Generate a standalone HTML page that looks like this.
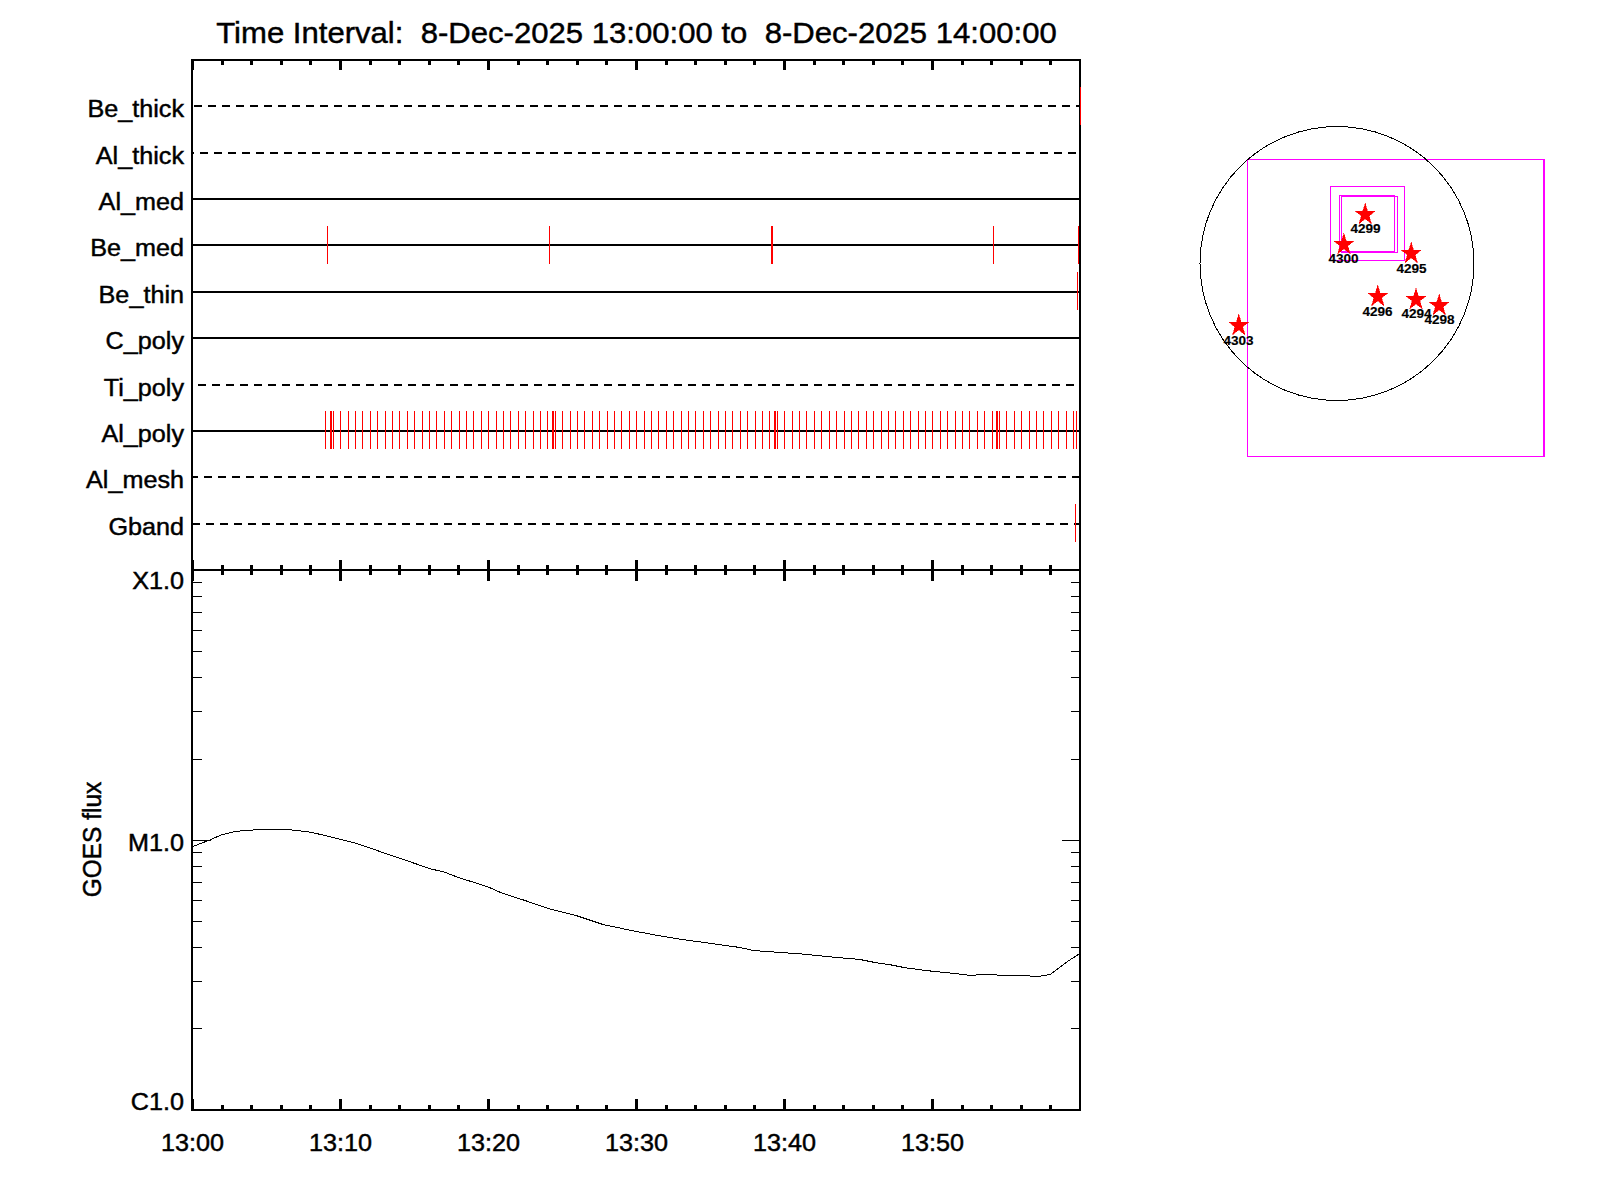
<!DOCTYPE html>
<html lang="en"><head><meta charset="utf-8"><title>XRT timeline 8-Dec-2025 13:00 - 14:00</title>
<style>html,body{margin:0;padding:0;background:#fff;}body{width:1600px;height:1200px;overflow:hidden;}svg{display:block;}text{font-family:"Liberation Sans",sans-serif;fill:#000;stroke:#000;stroke-width:0.45px;}.lab{font-size:24.0px;}.ttl{font-size:30.2px;}.ar{font-size:13.0px;font-weight:bold;stroke-width:0.15px;}</style>
</head><body>
<svg width="1600" height="1200" viewBox="0 0 1600 1200">
<rect x="0" y="0" width="1600" height="1200" fill="#ffffff"/>
<g shape-rendering="crispEdges">
<rect x="194" y="105" width="8" height="2" fill="#000"/>
<rect x="208" y="105" width="8" height="2" fill="#000"/>
<rect x="222" y="105" width="8" height="2" fill="#000"/>
<rect x="236" y="105" width="8" height="2" fill="#000"/>
<rect x="250" y="105" width="8" height="2" fill="#000"/>
<rect x="264" y="105" width="8" height="2" fill="#000"/>
<rect x="278" y="105" width="8" height="2" fill="#000"/>
<rect x="292" y="105" width="8" height="2" fill="#000"/>
<rect x="306" y="105" width="8" height="2" fill="#000"/>
<rect x="320" y="105" width="8" height="2" fill="#000"/>
<rect x="334" y="105" width="8" height="2" fill="#000"/>
<rect x="348" y="105" width="8" height="2" fill="#000"/>
<rect x="362" y="105" width="8" height="2" fill="#000"/>
<rect x="376" y="105" width="8" height="2" fill="#000"/>
<rect x="390" y="105" width="8" height="2" fill="#000"/>
<rect x="404" y="105" width="8" height="2" fill="#000"/>
<rect x="418" y="105" width="8" height="2" fill="#000"/>
<rect x="432" y="105" width="8" height="2" fill="#000"/>
<rect x="446" y="105" width="8" height="2" fill="#000"/>
<rect x="460" y="105" width="8" height="2" fill="#000"/>
<rect x="474" y="105" width="8" height="2" fill="#000"/>
<rect x="488" y="105" width="8" height="2" fill="#000"/>
<rect x="502" y="105" width="8" height="2" fill="#000"/>
<rect x="516" y="105" width="8" height="2" fill="#000"/>
<rect x="530" y="105" width="8" height="2" fill="#000"/>
<rect x="544" y="105" width="8" height="2" fill="#000"/>
<rect x="558" y="105" width="8" height="2" fill="#000"/>
<rect x="572" y="105" width="8" height="2" fill="#000"/>
<rect x="586" y="105" width="8" height="2" fill="#000"/>
<rect x="600" y="105" width="8" height="2" fill="#000"/>
<rect x="614" y="105" width="8" height="2" fill="#000"/>
<rect x="628" y="105" width="8" height="2" fill="#000"/>
<rect x="642" y="105" width="8" height="2" fill="#000"/>
<rect x="656" y="105" width="8" height="2" fill="#000"/>
<rect x="670" y="105" width="8" height="2" fill="#000"/>
<rect x="684" y="105" width="8" height="2" fill="#000"/>
<rect x="698" y="105" width="8" height="2" fill="#000"/>
<rect x="712" y="105" width="8" height="2" fill="#000"/>
<rect x="726" y="105" width="8" height="2" fill="#000"/>
<rect x="740" y="105" width="8" height="2" fill="#000"/>
<rect x="754" y="105" width="8" height="2" fill="#000"/>
<rect x="768" y="105" width="8" height="2" fill="#000"/>
<rect x="782" y="105" width="8" height="2" fill="#000"/>
<rect x="796" y="105" width="8" height="2" fill="#000"/>
<rect x="810" y="105" width="8" height="2" fill="#000"/>
<rect x="824" y="105" width="8" height="2" fill="#000"/>
<rect x="838" y="105" width="8" height="2" fill="#000"/>
<rect x="852" y="105" width="8" height="2" fill="#000"/>
<rect x="866" y="105" width="8" height="2" fill="#000"/>
<rect x="880" y="105" width="8" height="2" fill="#000"/>
<rect x="894" y="105" width="8" height="2" fill="#000"/>
<rect x="908" y="105" width="8" height="2" fill="#000"/>
<rect x="922" y="105" width="8" height="2" fill="#000"/>
<rect x="936" y="105" width="8" height="2" fill="#000"/>
<rect x="950" y="105" width="8" height="2" fill="#000"/>
<rect x="964" y="105" width="8" height="2" fill="#000"/>
<rect x="978" y="105" width="8" height="2" fill="#000"/>
<rect x="992" y="105" width="8" height="2" fill="#000"/>
<rect x="1006" y="105" width="8" height="2" fill="#000"/>
<rect x="1020" y="105" width="8" height="2" fill="#000"/>
<rect x="1034" y="105" width="8" height="2" fill="#000"/>
<rect x="1048" y="105" width="8" height="2" fill="#000"/>
<rect x="1062" y="105" width="8" height="2" fill="#000"/>
<rect x="1076" y="105" width="3" height="2" fill="#000"/>
<rect x="193" y="152" width="1" height="2" fill="#000"/>
<rect x="200" y="152" width="8" height="2" fill="#000"/>
<rect x="214" y="152" width="8" height="2" fill="#000"/>
<rect x="228" y="152" width="8" height="2" fill="#000"/>
<rect x="242" y="152" width="8" height="2" fill="#000"/>
<rect x="256" y="152" width="8" height="2" fill="#000"/>
<rect x="270" y="152" width="8" height="2" fill="#000"/>
<rect x="284" y="152" width="8" height="2" fill="#000"/>
<rect x="298" y="152" width="8" height="2" fill="#000"/>
<rect x="312" y="152" width="8" height="2" fill="#000"/>
<rect x="326" y="152" width="8" height="2" fill="#000"/>
<rect x="340" y="152" width="8" height="2" fill="#000"/>
<rect x="354" y="152" width="8" height="2" fill="#000"/>
<rect x="368" y="152" width="8" height="2" fill="#000"/>
<rect x="382" y="152" width="8" height="2" fill="#000"/>
<rect x="396" y="152" width="8" height="2" fill="#000"/>
<rect x="410" y="152" width="8" height="2" fill="#000"/>
<rect x="424" y="152" width="8" height="2" fill="#000"/>
<rect x="438" y="152" width="8" height="2" fill="#000"/>
<rect x="452" y="152" width="8" height="2" fill="#000"/>
<rect x="466" y="152" width="8" height="2" fill="#000"/>
<rect x="480" y="152" width="8" height="2" fill="#000"/>
<rect x="494" y="152" width="8" height="2" fill="#000"/>
<rect x="508" y="152" width="8" height="2" fill="#000"/>
<rect x="522" y="152" width="8" height="2" fill="#000"/>
<rect x="536" y="152" width="8" height="2" fill="#000"/>
<rect x="550" y="152" width="8" height="2" fill="#000"/>
<rect x="564" y="152" width="8" height="2" fill="#000"/>
<rect x="578" y="152" width="8" height="2" fill="#000"/>
<rect x="592" y="152" width="8" height="2" fill="#000"/>
<rect x="606" y="152" width="8" height="2" fill="#000"/>
<rect x="620" y="152" width="8" height="2" fill="#000"/>
<rect x="634" y="152" width="8" height="2" fill="#000"/>
<rect x="648" y="152" width="8" height="2" fill="#000"/>
<rect x="662" y="152" width="8" height="2" fill="#000"/>
<rect x="676" y="152" width="8" height="2" fill="#000"/>
<rect x="690" y="152" width="8" height="2" fill="#000"/>
<rect x="704" y="152" width="8" height="2" fill="#000"/>
<rect x="718" y="152" width="8" height="2" fill="#000"/>
<rect x="732" y="152" width="8" height="2" fill="#000"/>
<rect x="746" y="152" width="8" height="2" fill="#000"/>
<rect x="760" y="152" width="8" height="2" fill="#000"/>
<rect x="774" y="152" width="8" height="2" fill="#000"/>
<rect x="788" y="152" width="8" height="2" fill="#000"/>
<rect x="802" y="152" width="8" height="2" fill="#000"/>
<rect x="816" y="152" width="8" height="2" fill="#000"/>
<rect x="830" y="152" width="8" height="2" fill="#000"/>
<rect x="844" y="152" width="8" height="2" fill="#000"/>
<rect x="858" y="152" width="8" height="2" fill="#000"/>
<rect x="872" y="152" width="8" height="2" fill="#000"/>
<rect x="886" y="152" width="8" height="2" fill="#000"/>
<rect x="900" y="152" width="8" height="2" fill="#000"/>
<rect x="914" y="152" width="8" height="2" fill="#000"/>
<rect x="928" y="152" width="8" height="2" fill="#000"/>
<rect x="942" y="152" width="8" height="2" fill="#000"/>
<rect x="956" y="152" width="8" height="2" fill="#000"/>
<rect x="970" y="152" width="8" height="2" fill="#000"/>
<rect x="984" y="152" width="8" height="2" fill="#000"/>
<rect x="998" y="152" width="8" height="2" fill="#000"/>
<rect x="1012" y="152" width="8" height="2" fill="#000"/>
<rect x="1026" y="152" width="8" height="2" fill="#000"/>
<rect x="1040" y="152" width="8" height="2" fill="#000"/>
<rect x="1054" y="152" width="8" height="2" fill="#000"/>
<rect x="1068" y="152" width="8" height="2" fill="#000"/>
<rect x="193" y="198" width="886" height="2" fill="#000"/>
<rect x="193" y="244" width="886" height="2" fill="#000"/>
<rect x="193" y="291" width="886" height="2" fill="#000"/>
<rect x="193" y="337" width="886" height="2" fill="#000"/>
<rect x="198" y="384" width="8" height="2" fill="#000"/>
<rect x="212" y="384" width="8" height="2" fill="#000"/>
<rect x="226" y="384" width="8" height="2" fill="#000"/>
<rect x="240" y="384" width="8" height="2" fill="#000"/>
<rect x="254" y="384" width="8" height="2" fill="#000"/>
<rect x="268" y="384" width="8" height="2" fill="#000"/>
<rect x="282" y="384" width="8" height="2" fill="#000"/>
<rect x="296" y="384" width="8" height="2" fill="#000"/>
<rect x="310" y="384" width="8" height="2" fill="#000"/>
<rect x="324" y="384" width="8" height="2" fill="#000"/>
<rect x="338" y="384" width="8" height="2" fill="#000"/>
<rect x="352" y="384" width="8" height="2" fill="#000"/>
<rect x="366" y="384" width="8" height="2" fill="#000"/>
<rect x="380" y="384" width="8" height="2" fill="#000"/>
<rect x="394" y="384" width="8" height="2" fill="#000"/>
<rect x="408" y="384" width="8" height="2" fill="#000"/>
<rect x="422" y="384" width="8" height="2" fill="#000"/>
<rect x="436" y="384" width="8" height="2" fill="#000"/>
<rect x="450" y="384" width="8" height="2" fill="#000"/>
<rect x="464" y="384" width="8" height="2" fill="#000"/>
<rect x="478" y="384" width="8" height="2" fill="#000"/>
<rect x="492" y="384" width="8" height="2" fill="#000"/>
<rect x="506" y="384" width="8" height="2" fill="#000"/>
<rect x="520" y="384" width="8" height="2" fill="#000"/>
<rect x="534" y="384" width="8" height="2" fill="#000"/>
<rect x="548" y="384" width="8" height="2" fill="#000"/>
<rect x="562" y="384" width="8" height="2" fill="#000"/>
<rect x="576" y="384" width="8" height="2" fill="#000"/>
<rect x="590" y="384" width="8" height="2" fill="#000"/>
<rect x="604" y="384" width="8" height="2" fill="#000"/>
<rect x="618" y="384" width="8" height="2" fill="#000"/>
<rect x="632" y="384" width="8" height="2" fill="#000"/>
<rect x="646" y="384" width="8" height="2" fill="#000"/>
<rect x="660" y="384" width="8" height="2" fill="#000"/>
<rect x="674" y="384" width="8" height="2" fill="#000"/>
<rect x="688" y="384" width="8" height="2" fill="#000"/>
<rect x="702" y="384" width="8" height="2" fill="#000"/>
<rect x="716" y="384" width="8" height="2" fill="#000"/>
<rect x="730" y="384" width="8" height="2" fill="#000"/>
<rect x="744" y="384" width="8" height="2" fill="#000"/>
<rect x="758" y="384" width="8" height="2" fill="#000"/>
<rect x="772" y="384" width="8" height="2" fill="#000"/>
<rect x="786" y="384" width="8" height="2" fill="#000"/>
<rect x="800" y="384" width="8" height="2" fill="#000"/>
<rect x="814" y="384" width="8" height="2" fill="#000"/>
<rect x="828" y="384" width="8" height="2" fill="#000"/>
<rect x="842" y="384" width="8" height="2" fill="#000"/>
<rect x="856" y="384" width="8" height="2" fill="#000"/>
<rect x="870" y="384" width="8" height="2" fill="#000"/>
<rect x="884" y="384" width="8" height="2" fill="#000"/>
<rect x="898" y="384" width="8" height="2" fill="#000"/>
<rect x="912" y="384" width="8" height="2" fill="#000"/>
<rect x="926" y="384" width="8" height="2" fill="#000"/>
<rect x="940" y="384" width="8" height="2" fill="#000"/>
<rect x="954" y="384" width="8" height="2" fill="#000"/>
<rect x="968" y="384" width="8" height="2" fill="#000"/>
<rect x="982" y="384" width="8" height="2" fill="#000"/>
<rect x="996" y="384" width="8" height="2" fill="#000"/>
<rect x="1010" y="384" width="8" height="2" fill="#000"/>
<rect x="1024" y="384" width="8" height="2" fill="#000"/>
<rect x="1038" y="384" width="8" height="2" fill="#000"/>
<rect x="1052" y="384" width="8" height="2" fill="#000"/>
<rect x="1066" y="384" width="8" height="2" fill="#000"/>
<rect x="193" y="430" width="886" height="2" fill="#000"/>
<rect x="193" y="476" width="5" height="2" fill="#000"/>
<rect x="204" y="476" width="8" height="2" fill="#000"/>
<rect x="218" y="476" width="8" height="2" fill="#000"/>
<rect x="232" y="476" width="8" height="2" fill="#000"/>
<rect x="246" y="476" width="8" height="2" fill="#000"/>
<rect x="260" y="476" width="8" height="2" fill="#000"/>
<rect x="274" y="476" width="8" height="2" fill="#000"/>
<rect x="288" y="476" width="8" height="2" fill="#000"/>
<rect x="302" y="476" width="8" height="2" fill="#000"/>
<rect x="316" y="476" width="8" height="2" fill="#000"/>
<rect x="330" y="476" width="8" height="2" fill="#000"/>
<rect x="344" y="476" width="8" height="2" fill="#000"/>
<rect x="358" y="476" width="8" height="2" fill="#000"/>
<rect x="372" y="476" width="8" height="2" fill="#000"/>
<rect x="386" y="476" width="8" height="2" fill="#000"/>
<rect x="400" y="476" width="8" height="2" fill="#000"/>
<rect x="414" y="476" width="8" height="2" fill="#000"/>
<rect x="428" y="476" width="8" height="2" fill="#000"/>
<rect x="442" y="476" width="8" height="2" fill="#000"/>
<rect x="456" y="476" width="8" height="2" fill="#000"/>
<rect x="470" y="476" width="8" height="2" fill="#000"/>
<rect x="484" y="476" width="8" height="2" fill="#000"/>
<rect x="498" y="476" width="8" height="2" fill="#000"/>
<rect x="512" y="476" width="8" height="2" fill="#000"/>
<rect x="526" y="476" width="8" height="2" fill="#000"/>
<rect x="540" y="476" width="8" height="2" fill="#000"/>
<rect x="554" y="476" width="8" height="2" fill="#000"/>
<rect x="568" y="476" width="8" height="2" fill="#000"/>
<rect x="582" y="476" width="8" height="2" fill="#000"/>
<rect x="596" y="476" width="8" height="2" fill="#000"/>
<rect x="610" y="476" width="8" height="2" fill="#000"/>
<rect x="624" y="476" width="8" height="2" fill="#000"/>
<rect x="638" y="476" width="8" height="2" fill="#000"/>
<rect x="652" y="476" width="8" height="2" fill="#000"/>
<rect x="666" y="476" width="8" height="2" fill="#000"/>
<rect x="680" y="476" width="8" height="2" fill="#000"/>
<rect x="694" y="476" width="8" height="2" fill="#000"/>
<rect x="708" y="476" width="8" height="2" fill="#000"/>
<rect x="722" y="476" width="8" height="2" fill="#000"/>
<rect x="736" y="476" width="8" height="2" fill="#000"/>
<rect x="750" y="476" width="8" height="2" fill="#000"/>
<rect x="764" y="476" width="8" height="2" fill="#000"/>
<rect x="778" y="476" width="8" height="2" fill="#000"/>
<rect x="792" y="476" width="8" height="2" fill="#000"/>
<rect x="806" y="476" width="8" height="2" fill="#000"/>
<rect x="820" y="476" width="8" height="2" fill="#000"/>
<rect x="834" y="476" width="8" height="2" fill="#000"/>
<rect x="848" y="476" width="8" height="2" fill="#000"/>
<rect x="862" y="476" width="8" height="2" fill="#000"/>
<rect x="876" y="476" width="8" height="2" fill="#000"/>
<rect x="890" y="476" width="8" height="2" fill="#000"/>
<rect x="904" y="476" width="8" height="2" fill="#000"/>
<rect x="918" y="476" width="8" height="2" fill="#000"/>
<rect x="932" y="476" width="8" height="2" fill="#000"/>
<rect x="946" y="476" width="8" height="2" fill="#000"/>
<rect x="960" y="476" width="8" height="2" fill="#000"/>
<rect x="974" y="476" width="8" height="2" fill="#000"/>
<rect x="988" y="476" width="8" height="2" fill="#000"/>
<rect x="1002" y="476" width="8" height="2" fill="#000"/>
<rect x="1016" y="476" width="8" height="2" fill="#000"/>
<rect x="1030" y="476" width="8" height="2" fill="#000"/>
<rect x="1044" y="476" width="8" height="2" fill="#000"/>
<rect x="1058" y="476" width="8" height="2" fill="#000"/>
<rect x="1072" y="476" width="7" height="2" fill="#000"/>
<rect x="193" y="523" width="7" height="2" fill="#000"/>
<rect x="206" y="523" width="8" height="2" fill="#000"/>
<rect x="220" y="523" width="8" height="2" fill="#000"/>
<rect x="234" y="523" width="8" height="2" fill="#000"/>
<rect x="248" y="523" width="8" height="2" fill="#000"/>
<rect x="262" y="523" width="8" height="2" fill="#000"/>
<rect x="276" y="523" width="8" height="2" fill="#000"/>
<rect x="290" y="523" width="8" height="2" fill="#000"/>
<rect x="304" y="523" width="8" height="2" fill="#000"/>
<rect x="318" y="523" width="8" height="2" fill="#000"/>
<rect x="332" y="523" width="8" height="2" fill="#000"/>
<rect x="346" y="523" width="8" height="2" fill="#000"/>
<rect x="360" y="523" width="8" height="2" fill="#000"/>
<rect x="374" y="523" width="8" height="2" fill="#000"/>
<rect x="388" y="523" width="8" height="2" fill="#000"/>
<rect x="402" y="523" width="8" height="2" fill="#000"/>
<rect x="416" y="523" width="8" height="2" fill="#000"/>
<rect x="430" y="523" width="8" height="2" fill="#000"/>
<rect x="444" y="523" width="8" height="2" fill="#000"/>
<rect x="458" y="523" width="8" height="2" fill="#000"/>
<rect x="472" y="523" width="8" height="2" fill="#000"/>
<rect x="486" y="523" width="8" height="2" fill="#000"/>
<rect x="500" y="523" width="8" height="2" fill="#000"/>
<rect x="514" y="523" width="8" height="2" fill="#000"/>
<rect x="528" y="523" width="8" height="2" fill="#000"/>
<rect x="542" y="523" width="8" height="2" fill="#000"/>
<rect x="556" y="523" width="8" height="2" fill="#000"/>
<rect x="570" y="523" width="8" height="2" fill="#000"/>
<rect x="584" y="523" width="8" height="2" fill="#000"/>
<rect x="598" y="523" width="8" height="2" fill="#000"/>
<rect x="612" y="523" width="8" height="2" fill="#000"/>
<rect x="626" y="523" width="8" height="2" fill="#000"/>
<rect x="640" y="523" width="8" height="2" fill="#000"/>
<rect x="654" y="523" width="8" height="2" fill="#000"/>
<rect x="668" y="523" width="8" height="2" fill="#000"/>
<rect x="682" y="523" width="8" height="2" fill="#000"/>
<rect x="696" y="523" width="8" height="2" fill="#000"/>
<rect x="710" y="523" width="8" height="2" fill="#000"/>
<rect x="724" y="523" width="8" height="2" fill="#000"/>
<rect x="738" y="523" width="8" height="2" fill="#000"/>
<rect x="752" y="523" width="8" height="2" fill="#000"/>
<rect x="766" y="523" width="8" height="2" fill="#000"/>
<rect x="780" y="523" width="8" height="2" fill="#000"/>
<rect x="794" y="523" width="8" height="2" fill="#000"/>
<rect x="808" y="523" width="8" height="2" fill="#000"/>
<rect x="822" y="523" width="8" height="2" fill="#000"/>
<rect x="836" y="523" width="8" height="2" fill="#000"/>
<rect x="850" y="523" width="8" height="2" fill="#000"/>
<rect x="864" y="523" width="8" height="2" fill="#000"/>
<rect x="878" y="523" width="8" height="2" fill="#000"/>
<rect x="892" y="523" width="8" height="2" fill="#000"/>
<rect x="906" y="523" width="8" height="2" fill="#000"/>
<rect x="920" y="523" width="8" height="2" fill="#000"/>
<rect x="934" y="523" width="8" height="2" fill="#000"/>
<rect x="948" y="523" width="8" height="2" fill="#000"/>
<rect x="962" y="523" width="8" height="2" fill="#000"/>
<rect x="976" y="523" width="8" height="2" fill="#000"/>
<rect x="990" y="523" width="8" height="2" fill="#000"/>
<rect x="1004" y="523" width="8" height="2" fill="#000"/>
<rect x="1018" y="523" width="8" height="2" fill="#000"/>
<rect x="1032" y="523" width="8" height="2" fill="#000"/>
<rect x="1046" y="523" width="8" height="2" fill="#000"/>
<rect x="1060" y="523" width="8" height="2" fill="#000"/>
<rect x="1074" y="523" width="5" height="2" fill="#000"/>
<rect x="191" y="59" width="2" height="1052" fill="#000"/>
<rect x="1079" y="59" width="2" height="1052" fill="#000"/>
<rect x="191" y="59" width="890" height="2" fill="#000"/>
<rect x="191" y="569" width="890" height="2" fill="#000"/>
<rect x="191" y="1109" width="890" height="2" fill="#000"/>
<rect x="192" y="61" width="2" height="9" fill="#000"/>
<rect x="192" y="560" width="2" height="21" fill="#000"/>
<rect x="192" y="1099" width="2" height="10" fill="#000"/>
<rect x="221" y="61" width="3" height="4" fill="#000"/>
<rect x="221" y="565" width="3" height="10" fill="#000"/>
<rect x="221" y="1105" width="3" height="4" fill="#000"/>
<rect x="250" y="61" width="3" height="4" fill="#000"/>
<rect x="250" y="565" width="3" height="10" fill="#000"/>
<rect x="250" y="1105" width="3" height="4" fill="#000"/>
<rect x="280" y="61" width="3" height="4" fill="#000"/>
<rect x="280" y="565" width="3" height="10" fill="#000"/>
<rect x="280" y="1105" width="3" height="4" fill="#000"/>
<rect x="309" y="61" width="3" height="4" fill="#000"/>
<rect x="309" y="565" width="3" height="10" fill="#000"/>
<rect x="309" y="1105" width="3" height="4" fill="#000"/>
<rect x="339" y="61" width="3" height="9" fill="#000"/>
<rect x="339" y="560" width="3" height="21" fill="#000"/>
<rect x="339" y="1099" width="3" height="10" fill="#000"/>
<rect x="369" y="61" width="3" height="4" fill="#000"/>
<rect x="369" y="565" width="3" height="10" fill="#000"/>
<rect x="369" y="1105" width="3" height="4" fill="#000"/>
<rect x="398" y="61" width="3" height="4" fill="#000"/>
<rect x="398" y="565" width="3" height="10" fill="#000"/>
<rect x="398" y="1105" width="3" height="4" fill="#000"/>
<rect x="428" y="61" width="3" height="4" fill="#000"/>
<rect x="428" y="565" width="3" height="10" fill="#000"/>
<rect x="428" y="1105" width="3" height="4" fill="#000"/>
<rect x="457" y="61" width="3" height="4" fill="#000"/>
<rect x="457" y="565" width="3" height="10" fill="#000"/>
<rect x="457" y="1105" width="3" height="4" fill="#000"/>
<rect x="487" y="61" width="3" height="9" fill="#000"/>
<rect x="487" y="560" width="3" height="21" fill="#000"/>
<rect x="487" y="1099" width="3" height="10" fill="#000"/>
<rect x="517" y="61" width="3" height="4" fill="#000"/>
<rect x="517" y="565" width="3" height="10" fill="#000"/>
<rect x="517" y="1105" width="3" height="4" fill="#000"/>
<rect x="546" y="61" width="3" height="4" fill="#000"/>
<rect x="546" y="565" width="3" height="10" fill="#000"/>
<rect x="546" y="1105" width="3" height="4" fill="#000"/>
<rect x="576" y="61" width="3" height="4" fill="#000"/>
<rect x="576" y="565" width="3" height="10" fill="#000"/>
<rect x="576" y="1105" width="3" height="4" fill="#000"/>
<rect x="605" y="61" width="3" height="4" fill="#000"/>
<rect x="605" y="565" width="3" height="10" fill="#000"/>
<rect x="605" y="1105" width="3" height="4" fill="#000"/>
<rect x="635" y="61" width="3" height="9" fill="#000"/>
<rect x="635" y="560" width="3" height="21" fill="#000"/>
<rect x="635" y="1099" width="3" height="10" fill="#000"/>
<rect x="665" y="61" width="3" height="4" fill="#000"/>
<rect x="665" y="565" width="3" height="10" fill="#000"/>
<rect x="665" y="1105" width="3" height="4" fill="#000"/>
<rect x="694" y="61" width="3" height="4" fill="#000"/>
<rect x="694" y="565" width="3" height="10" fill="#000"/>
<rect x="694" y="1105" width="3" height="4" fill="#000"/>
<rect x="724" y="61" width="3" height="4" fill="#000"/>
<rect x="724" y="565" width="3" height="10" fill="#000"/>
<rect x="724" y="1105" width="3" height="4" fill="#000"/>
<rect x="753" y="61" width="3" height="4" fill="#000"/>
<rect x="753" y="565" width="3" height="10" fill="#000"/>
<rect x="753" y="1105" width="3" height="4" fill="#000"/>
<rect x="783" y="61" width="3" height="9" fill="#000"/>
<rect x="783" y="560" width="3" height="21" fill="#000"/>
<rect x="783" y="1099" width="3" height="10" fill="#000"/>
<rect x="813" y="61" width="3" height="4" fill="#000"/>
<rect x="813" y="565" width="3" height="10" fill="#000"/>
<rect x="813" y="1105" width="3" height="4" fill="#000"/>
<rect x="842" y="61" width="3" height="4" fill="#000"/>
<rect x="842" y="565" width="3" height="10" fill="#000"/>
<rect x="842" y="1105" width="3" height="4" fill="#000"/>
<rect x="872" y="61" width="3" height="4" fill="#000"/>
<rect x="872" y="565" width="3" height="10" fill="#000"/>
<rect x="872" y="1105" width="3" height="4" fill="#000"/>
<rect x="901" y="61" width="3" height="4" fill="#000"/>
<rect x="901" y="565" width="3" height="10" fill="#000"/>
<rect x="901" y="1105" width="3" height="4" fill="#000"/>
<rect x="931" y="61" width="3" height="9" fill="#000"/>
<rect x="931" y="560" width="3" height="21" fill="#000"/>
<rect x="931" y="1099" width="3" height="10" fill="#000"/>
<rect x="961" y="61" width="3" height="4" fill="#000"/>
<rect x="961" y="565" width="3" height="10" fill="#000"/>
<rect x="961" y="1105" width="3" height="4" fill="#000"/>
<rect x="990" y="61" width="3" height="4" fill="#000"/>
<rect x="990" y="565" width="3" height="10" fill="#000"/>
<rect x="990" y="1105" width="3" height="4" fill="#000"/>
<rect x="1020" y="61" width="3" height="4" fill="#000"/>
<rect x="1020" y="565" width="3" height="10" fill="#000"/>
<rect x="1020" y="1105" width="3" height="4" fill="#000"/>
<rect x="1049" y="61" width="3" height="4" fill="#000"/>
<rect x="1049" y="565" width="3" height="10" fill="#000"/>
<rect x="1049" y="1105" width="3" height="4" fill="#000"/>
<rect x="193" y="840" width="18" height="1" fill="#000"/>
<rect x="1062" y="840" width="17" height="1" fill="#000"/>
<rect x="193" y="759" width="9" height="1" fill="#000"/>
<rect x="1071" y="759" width="8" height="1" fill="#000"/>
<rect x="193" y="711" width="9" height="1" fill="#000"/>
<rect x="1071" y="711" width="8" height="1" fill="#000"/>
<rect x="193" y="677" width="9" height="1" fill="#000"/>
<rect x="1071" y="677" width="8" height="1" fill="#000"/>
<rect x="193" y="651" width="9" height="1" fill="#000"/>
<rect x="1071" y="651" width="8" height="1" fill="#000"/>
<rect x="193" y="630" width="9" height="1" fill="#000"/>
<rect x="1071" y="630" width="8" height="1" fill="#000"/>
<rect x="193" y="612" width="9" height="1" fill="#000"/>
<rect x="1071" y="612" width="8" height="1" fill="#000"/>
<rect x="193" y="596" width="9" height="1" fill="#000"/>
<rect x="1071" y="596" width="8" height="1" fill="#000"/>
<rect x="193" y="582" width="9" height="1" fill="#000"/>
<rect x="1071" y="582" width="8" height="1" fill="#000"/>
<rect x="193" y="1028" width="9" height="1" fill="#000"/>
<rect x="1071" y="1028" width="8" height="1" fill="#000"/>
<rect x="193" y="981" width="9" height="1" fill="#000"/>
<rect x="1071" y="981" width="8" height="1" fill="#000"/>
<rect x="193" y="947" width="9" height="1" fill="#000"/>
<rect x="1071" y="947" width="8" height="1" fill="#000"/>
<rect x="193" y="921" width="9" height="1" fill="#000"/>
<rect x="1071" y="921" width="8" height="1" fill="#000"/>
<rect x="193" y="900" width="9" height="1" fill="#000"/>
<rect x="1071" y="900" width="8" height="1" fill="#000"/>
<rect x="193" y="882" width="9" height="1" fill="#000"/>
<rect x="1071" y="882" width="8" height="1" fill="#000"/>
<rect x="193" y="866" width="9" height="1" fill="#000"/>
<rect x="1071" y="866" width="8" height="1" fill="#000"/>
<rect x="193" y="852" width="9" height="1" fill="#000"/>
<rect x="1071" y="852" width="8" height="1" fill="#000"/>
<rect x="327" y="226" width="1" height="38" fill="#ff0000"/>
<rect x="549" y="226" width="1" height="38" fill="#ff0000"/>
<rect x="771" y="226" width="1" height="38" fill="#ff0000"/>
<rect x="772" y="226" width="1" height="38" fill="#ff0000"/>
<rect x="993" y="226" width="1" height="38" fill="#ff0000"/>
<rect x="1078" y="226" width="1" height="38" fill="#ff0000"/>
<rect x="1080" y="87" width="1" height="38" fill="#ff0000"/>
<rect x="1077" y="272" width="1" height="38" fill="#ff0000"/>
<rect x="1075" y="504" width="1" height="38" fill="#ff0000"/>
<rect x="325" y="411" width="1" height="38" fill="#ff0000"/>
<rect x="330" y="411" width="1" height="38" fill="#ff0000"/>
<rect x="331" y="411" width="1" height="38" fill="#ff0000"/>
<rect x="333" y="411" width="1" height="38" fill="#ff0000"/>
<rect x="340" y="411" width="1" height="38" fill="#ff0000"/>
<rect x="348" y="411" width="1" height="38" fill="#ff0000"/>
<rect x="355" y="411" width="1" height="38" fill="#ff0000"/>
<rect x="362" y="411" width="1" height="38" fill="#ff0000"/>
<rect x="370" y="411" width="1" height="38" fill="#ff0000"/>
<rect x="377" y="411" width="1" height="38" fill="#ff0000"/>
<rect x="385" y="411" width="1" height="38" fill="#ff0000"/>
<rect x="392" y="411" width="1" height="38" fill="#ff0000"/>
<rect x="399" y="411" width="1" height="38" fill="#ff0000"/>
<rect x="407" y="411" width="1" height="38" fill="#ff0000"/>
<rect x="414" y="411" width="1" height="38" fill="#ff0000"/>
<rect x="422" y="411" width="1" height="38" fill="#ff0000"/>
<rect x="429" y="411" width="1" height="38" fill="#ff0000"/>
<rect x="436" y="411" width="1" height="38" fill="#ff0000"/>
<rect x="444" y="411" width="1" height="38" fill="#ff0000"/>
<rect x="451" y="411" width="1" height="38" fill="#ff0000"/>
<rect x="459" y="411" width="1" height="38" fill="#ff0000"/>
<rect x="466" y="411" width="1" height="38" fill="#ff0000"/>
<rect x="473" y="411" width="1" height="38" fill="#ff0000"/>
<rect x="481" y="411" width="1" height="38" fill="#ff0000"/>
<rect x="488" y="411" width="1" height="38" fill="#ff0000"/>
<rect x="496" y="411" width="1" height="38" fill="#ff0000"/>
<rect x="503" y="411" width="1" height="38" fill="#ff0000"/>
<rect x="510" y="411" width="1" height="38" fill="#ff0000"/>
<rect x="518" y="411" width="1" height="38" fill="#ff0000"/>
<rect x="525" y="411" width="1" height="38" fill="#ff0000"/>
<rect x="533" y="411" width="1" height="38" fill="#ff0000"/>
<rect x="540" y="411" width="1" height="38" fill="#ff0000"/>
<rect x="547" y="411" width="1" height="38" fill="#ff0000"/>
<rect x="552" y="411" width="1" height="38" fill="#ff0000"/>
<rect x="553" y="411" width="1" height="38" fill="#ff0000"/>
<rect x="555" y="411" width="1" height="38" fill="#ff0000"/>
<rect x="562" y="411" width="1" height="38" fill="#ff0000"/>
<rect x="570" y="411" width="1" height="38" fill="#ff0000"/>
<rect x="577" y="411" width="1" height="38" fill="#ff0000"/>
<rect x="584" y="411" width="1" height="38" fill="#ff0000"/>
<rect x="592" y="411" width="1" height="38" fill="#ff0000"/>
<rect x="599" y="411" width="1" height="38" fill="#ff0000"/>
<rect x="607" y="411" width="1" height="38" fill="#ff0000"/>
<rect x="614" y="411" width="1" height="38" fill="#ff0000"/>
<rect x="621" y="411" width="1" height="38" fill="#ff0000"/>
<rect x="629" y="411" width="1" height="38" fill="#ff0000"/>
<rect x="636" y="411" width="1" height="38" fill="#ff0000"/>
<rect x="644" y="411" width="1" height="38" fill="#ff0000"/>
<rect x="651" y="411" width="1" height="38" fill="#ff0000"/>
<rect x="658" y="411" width="1" height="38" fill="#ff0000"/>
<rect x="666" y="411" width="1" height="38" fill="#ff0000"/>
<rect x="673" y="411" width="1" height="38" fill="#ff0000"/>
<rect x="681" y="411" width="1" height="38" fill="#ff0000"/>
<rect x="688" y="411" width="1" height="38" fill="#ff0000"/>
<rect x="695" y="411" width="1" height="38" fill="#ff0000"/>
<rect x="703" y="411" width="1" height="38" fill="#ff0000"/>
<rect x="710" y="411" width="1" height="38" fill="#ff0000"/>
<rect x="718" y="411" width="1" height="38" fill="#ff0000"/>
<rect x="725" y="411" width="1" height="38" fill="#ff0000"/>
<rect x="732" y="411" width="1" height="38" fill="#ff0000"/>
<rect x="740" y="411" width="1" height="38" fill="#ff0000"/>
<rect x="747" y="411" width="1" height="38" fill="#ff0000"/>
<rect x="755" y="411" width="1" height="38" fill="#ff0000"/>
<rect x="762" y="411" width="1" height="38" fill="#ff0000"/>
<rect x="769" y="411" width="1" height="38" fill="#ff0000"/>
<rect x="774" y="411" width="1" height="38" fill="#ff0000"/>
<rect x="775" y="411" width="1" height="38" fill="#ff0000"/>
<rect x="777" y="411" width="1" height="38" fill="#ff0000"/>
<rect x="784" y="411" width="1" height="38" fill="#ff0000"/>
<rect x="792" y="411" width="1" height="38" fill="#ff0000"/>
<rect x="799" y="411" width="1" height="38" fill="#ff0000"/>
<rect x="806" y="411" width="1" height="38" fill="#ff0000"/>
<rect x="814" y="411" width="1" height="38" fill="#ff0000"/>
<rect x="821" y="411" width="1" height="38" fill="#ff0000"/>
<rect x="829" y="411" width="1" height="38" fill="#ff0000"/>
<rect x="836" y="411" width="1" height="38" fill="#ff0000"/>
<rect x="844" y="411" width="1" height="38" fill="#ff0000"/>
<rect x="851" y="411" width="1" height="38" fill="#ff0000"/>
<rect x="858" y="411" width="1" height="38" fill="#ff0000"/>
<rect x="866" y="411" width="1" height="38" fill="#ff0000"/>
<rect x="873" y="411" width="1" height="38" fill="#ff0000"/>
<rect x="881" y="411" width="1" height="38" fill="#ff0000"/>
<rect x="888" y="411" width="1" height="38" fill="#ff0000"/>
<rect x="895" y="411" width="1" height="38" fill="#ff0000"/>
<rect x="903" y="411" width="1" height="38" fill="#ff0000"/>
<rect x="910" y="411" width="1" height="38" fill="#ff0000"/>
<rect x="918" y="411" width="1" height="38" fill="#ff0000"/>
<rect x="925" y="411" width="1" height="38" fill="#ff0000"/>
<rect x="932" y="411" width="1" height="38" fill="#ff0000"/>
<rect x="940" y="411" width="1" height="38" fill="#ff0000"/>
<rect x="947" y="411" width="1" height="38" fill="#ff0000"/>
<rect x="955" y="411" width="1" height="38" fill="#ff0000"/>
<rect x="962" y="411" width="1" height="38" fill="#ff0000"/>
<rect x="969" y="411" width="1" height="38" fill="#ff0000"/>
<rect x="977" y="411" width="1" height="38" fill="#ff0000"/>
<rect x="984" y="411" width="1" height="38" fill="#ff0000"/>
<rect x="992" y="411" width="1" height="38" fill="#ff0000"/>
<rect x="996" y="411" width="1" height="38" fill="#ff0000"/>
<rect x="997" y="411" width="1" height="38" fill="#ff0000"/>
<rect x="999" y="411" width="1" height="38" fill="#ff0000"/>
<rect x="1006" y="411" width="1" height="38" fill="#ff0000"/>
<rect x="1014" y="411" width="1" height="38" fill="#ff0000"/>
<rect x="1021" y="411" width="1" height="38" fill="#ff0000"/>
<rect x="1029" y="411" width="1" height="38" fill="#ff0000"/>
<rect x="1036" y="411" width="1" height="38" fill="#ff0000"/>
<rect x="1043" y="411" width="1" height="38" fill="#ff0000"/>
<rect x="1051" y="411" width="1" height="38" fill="#ff0000"/>
<rect x="1058" y="411" width="1" height="38" fill="#ff0000"/>
<rect x="1066" y="411" width="1" height="38" fill="#ff0000"/>
<rect x="1073" y="411" width="1" height="38" fill="#ff0000"/>
<rect x="1076" y="411" width="1" height="38" fill="#ff0000"/>
<polyline fill="none" stroke="#000" stroke-width="1" points="193,846.5 201,843.3 210,840 221,835 235,831.5 245.5,830.5 260.5,829.5 287.5,829.5 299.5,830.8 310,832.2 325,835.4 340,839.3 355,843 370,848 385,853.3 400,858.2 415,863.5 430,868.7 444,872 459,877.7 487.5,886.7 502.5,893.3 525,900.5 549,908.8 576,915.5 603,924.5 630,930.2 655,935 680,939.2 710,943.3 740,947.5 753.5,950.5 777.5,952.3 800,953.8 830,956.8 860,959.5 875,962.5 890,964.7 905,967.7 927.5,970.7 950,973 969.5,975.3 990.5,974.3 999.5,975.3 1028,975.4 1031,976.5 1038.5,976.5 1050.5,974.3 1055,970.8 1067,961.8 1079,954"/>
<rect x="1247" y="159" width="297" height="1" fill="#ff00ff"/>
<rect x="1247" y="456" width="297" height="1" fill="#ff00ff"/>
<rect x="1247" y="159" width="1" height="298" fill="#ff00ff"/>
<rect x="1543" y="159" width="1" height="298" fill="#ff00ff"/>
<rect x="1247" y="159" width="298" height="1" fill="#ff00ff"/>
<rect x="1247" y="456" width="298" height="1" fill="#ff00ff"/>
<rect x="1247" y="159" width="1" height="298" fill="#ff00ff"/>
<rect x="1544" y="159" width="1" height="298" fill="#ff00ff"/>
<rect x="1330" y="186" width="75" height="1" fill="#ff00ff"/>
<rect x="1330" y="260" width="75" height="1" fill="#ff00ff"/>
<rect x="1330" y="186" width="1" height="75" fill="#ff00ff"/>
<rect x="1404" y="186" width="1" height="75" fill="#ff00ff"/>
<rect x="1339" y="195" width="56" height="1" fill="#ff00ff"/>
<rect x="1339" y="251" width="56" height="1" fill="#ff00ff"/>
<rect x="1339" y="195" width="1" height="57" fill="#ff00ff"/>
<rect x="1394" y="195" width="1" height="57" fill="#ff00ff"/>
<rect x="1341" y="196" width="57" height="1" fill="#ff00ff"/>
<rect x="1341" y="252" width="57" height="1" fill="#ff00ff"/>
<rect x="1341" y="196" width="1" height="57" fill="#ff00ff"/>
<rect x="1397" y="196" width="1" height="57" fill="#ff00ff"/>
<circle cx="1337" cy="263.5" r="137" fill="none" stroke="#000" stroke-width="1"/>
<polygon points="1365.20,203.25 1367.58,211.08 1375.28,211.08 1369.05,215.92 1371.43,223.75 1365.20,218.91 1358.97,223.75 1361.35,215.92 1355.12,211.08 1362.82,211.08" fill="#ff0000" stroke="#ff0000" stroke-width="0.5"/>
<polygon points="1343.90,233.25 1346.28,241.08 1353.98,241.08 1347.75,245.92 1350.13,253.75 1343.90,248.91 1337.67,253.75 1340.05,245.92 1333.82,241.08 1341.52,241.08" fill="#ff0000" stroke="#ff0000" stroke-width="0.5"/>
<polygon points="1411.20,242.25 1413.58,250.08 1421.28,250.08 1415.05,254.92 1417.43,262.75 1411.20,257.91 1404.97,262.75 1407.35,254.92 1401.12,250.08 1408.82,250.08" fill="#ff0000" stroke="#ff0000" stroke-width="0.5"/>
<polygon points="1377.80,285.25 1380.18,293.08 1387.88,293.08 1381.65,297.92 1384.03,305.75 1377.80,300.91 1371.57,305.75 1373.95,297.92 1367.72,293.08 1375.42,293.08" fill="#ff0000" stroke="#ff0000" stroke-width="0.5"/>
<polygon points="1416.00,288.25 1418.38,296.08 1426.08,296.08 1419.85,300.92 1422.23,308.75 1416.00,303.91 1409.77,308.75 1412.15,300.92 1405.92,296.08 1413.62,296.08" fill="#ff0000" stroke="#ff0000" stroke-width="0.5"/>
<polygon points="1439.20,294.25 1441.58,302.08 1449.28,302.08 1443.05,306.92 1445.43,314.75 1439.20,309.91 1432.97,314.75 1435.35,306.92 1429.12,302.08 1436.82,302.08" fill="#ff0000" stroke="#ff0000" stroke-width="0.5"/>
<polygon points="1238.80,314.25 1241.18,322.08 1248.88,322.08 1242.65,326.92 1245.03,334.75 1238.80,329.91 1232.57,334.75 1234.95,326.92 1228.72,322.08 1236.42,322.08" fill="#ff0000" stroke="#ff0000" stroke-width="0.5"/>
</g>
<text class="ttl" transform="translate(636.5,43) scale(1.03,1)" text-anchor="middle" xml:space="preserve" style="white-space:pre">Time Interval:  8-Dec-2025 13:00:00 to  8-Dec-2025 14:00:00</text>
<text class="lab" transform="translate(184,117) scale(1.05,1)" text-anchor="end">Be_thick</text>
<text class="lab" transform="translate(184,164) scale(1.05,1)" text-anchor="end">Al_thick</text>
<text class="lab" transform="translate(184,210) scale(1.05,1)" text-anchor="end">Al_med</text>
<text class="lab" transform="translate(184,256) scale(1.05,1)" text-anchor="end">Be_med</text>
<text class="lab" transform="translate(184,303) scale(1.05,1)" text-anchor="end">Be_thin</text>
<text class="lab" transform="translate(184,349) scale(1.05,1)" text-anchor="end">C_poly</text>
<text class="lab" transform="translate(184,396) scale(1.05,1)" text-anchor="end">Ti_poly</text>
<text class="lab" transform="translate(184,442) scale(1.05,1)" text-anchor="end">Al_poly</text>
<text class="lab" transform="translate(184,488) scale(1.05,1)" text-anchor="end">Al_mesh</text>
<text class="lab" transform="translate(184,535) scale(1.05,1)" text-anchor="end">Gband</text>
<text class="lab" transform="translate(184,589) scale(1.05,1)" text-anchor="end">X1.0</text>
<text class="lab" transform="translate(184,850.5) scale(1.05,1)" text-anchor="end">M1.0</text>
<text class="lab" transform="translate(184,1110.3) scale(1.05,1)" text-anchor="end">C1.0</text>
<text class="lab" transform="translate(101,839.5) rotate(-90) scale(1.02,1.06)" text-anchor="middle">GOES flux</text>
<text class="lab" transform="translate(192.5,1151) scale(1.05,1)" text-anchor="middle">13:00</text>
<text class="lab" transform="translate(340.5,1151) scale(1.05,1)" text-anchor="middle">13:10</text>
<text class="lab" transform="translate(488.5,1151) scale(1.05,1)" text-anchor="middle">13:20</text>
<text class="lab" transform="translate(636.5,1151) scale(1.05,1)" text-anchor="middle">13:30</text>
<text class="lab" transform="translate(784.5,1151) scale(1.05,1)" text-anchor="middle">13:40</text>
<text class="lab" transform="translate(932.5,1151) scale(1.05,1)" text-anchor="middle">13:50</text>
<text class="ar" transform="translate(1365.5,233) scale(1.044,1)" text-anchor="middle">4299</text>
<text class="ar" transform="translate(1343.5,262.7) scale(1.044,1)" text-anchor="middle">4300</text>
<text class="ar" transform="translate(1411.5,272.8) scale(1.044,1)" text-anchor="middle">4295</text>
<text class="ar" transform="translate(1377.5,315.5) scale(1.044,1)" text-anchor="middle">4296</text>
<text class="ar" transform="translate(1416.5,317.5) scale(1.044,1)" text-anchor="middle">4294</text>
<text class="ar" transform="translate(1439.5,324.4) scale(1.044,1)" text-anchor="middle">4298</text>
<text class="ar" transform="translate(1238.5,345) scale(1.044,1)" text-anchor="middle">4303</text>
</svg></body></html>
